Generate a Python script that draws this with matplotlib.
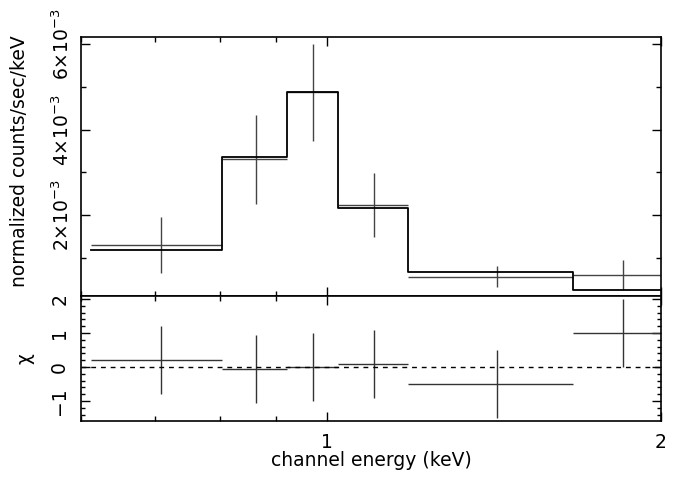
import numpy as np
import matplotlib
matplotlib.use("Agg")
import matplotlib.pyplot as plt
from matplotlib.ticker import FixedLocator, NullFormatter, MultipleLocator

# channel bins (keV)
e_lo = [0.613, 0.804, 0.920, 1.022, 1.182, 1.665]
e_hi = [0.804, 0.920, 1.022, 1.182, 1.665, 2.031]

# normalized counts/sec/keV
data = [1.31e-3, 3.31e-3, 4.87e-3, 2.24e-3, 0.57e-3, 0.62e-3]
data_err = [0.65e-3, 1.04e-3, 1.13e-3, 0.75e-3, 0.25e-3, 0.35e-3]
model = [1.19e-3, 3.35e-3, 4.87e-3, 2.17e-3, 0.68e-3, 0.27e-3]

# residuals
chi = [0.20, -0.05, -0.01, 0.10, -0.51, 1.01]
chi_err = [1, 1, 1, 1, 1, 1]

y_ticks = [2e-3, 4e-3, 6e-3]
y_labels = [r"$2{\times}10^{-3}$", r"$4{\times}10^{-3}$", r"$6{\times}10^{-3}$"]

plt.rcParams['font.family'] = ['DejaVu Sans']
plt.rcParams['mathtext.fontset'] = 'dejavusans'
FS = 13.5

W, H = 679, 480
fig = plt.figure(figsize=(W / 100, H / 100), dpi=100)

def frac(x0, y0, x1, y1):
    return [x0 / W, 1 - y1 / H, (x1 - x0) / W, (y1 - y0) / H]

ax1 = fig.add_axes(frac(81, 37.3, 661, 295.7))
ax2 = fig.add_axes(frac(81, 295.7, 661, 421), sharex=ax1)

lo = np.array(e_lo)
hi = np.array(e_hi)
mid = (lo + hi) / 2
half = (hi - lo) / 2

# top panel
ax1.errorbar(mid, data, xerr=half, yerr=data_err, fmt='none',
             ecolor='#444444', elinewidth=1.0, capsize=0)
ax1.step(list(e_lo) + [e_hi[-1]], list(model) + [model[-1]],
         where='post', color='black', lw=1.3)

# bottom panel
ax2.errorbar(mid, chi, xerr=half, yerr=chi_err, fmt='none',
             ecolor='#333333', elinewidth=1.0, capsize=0)
ax2.axhline(0, color='black', lw=1.0, ls=(0, (3.5, 3.5)))

ax1.set_xscale('log')
ax1.set_xlim(0.6, 2.0)
ax1.set_ylim(0.128e-3, 6.15e-3)
ax2.set_ylim(-1.59, 2.10)

for ax in (ax1, ax2):
    ax.xaxis.set_major_locator(FixedLocator([1, 2]))
    ax.xaxis.set_minor_locator(FixedLocator([0.6, 0.7, 0.8, 0.9]))
    ax.xaxis.set_minor_formatter(NullFormatter())
    ax.tick_params(which='both', direction='in', top=True, right=True,
                   width=1.0, color='black')
    ax.tick_params(which='major', length=6.5)
    ax.tick_params(which='minor', length=3.6)
    for s in ax.spines.values():
        s.set_linewidth(1.2)

ax1.set_yticks(y_ticks)
ax1.set_yticklabels(y_labels, rotation=90, va='center', fontsize=FS)
ax1.yaxis.set_minor_locator(FixedLocator([1e-3, 3e-3, 5e-3]))
ax1.tick_params(axis='y', pad=6.0)
ax1.tick_params(axis='x', labelbottom=False)

ax2.yaxis.set_major_locator(FixedLocator([-1, 0, 1, 2]))
ax2.yaxis.set_minor_locator(MultipleLocator(0.2))
ax2.set_yticklabels(['\u22121', '0', '1', '2'], rotation=90, va='center', fontsize=FS)
ax2.tick_params(axis='y', which='minor', length=3.0)
ax2.tick_params(axis='y', pad=8.5)
ax2.set_xticklabels(['1', '2'], fontsize=FS)
ax2.tick_params(axis='x', pad=8.5)

ax1.set_ylabel('normalized counts/sec/keV', fontsize=FS, va='center')
ax1.yaxis.set_label_coords(-61 / 580, 0.52)
ax2.set_ylabel('\u03c7', fontsize=FS, va='center', rotation=90)
ax2.yaxis.set_label_coords(-56 / 580, 0.5)
ax2.set_xlabel('channel energy (keV)', fontsize=FS, va='top')
ax2.xaxis.set_label_coords(0.5, -30 / 125.3)

fig.savefig('out.png', dpi=100)
